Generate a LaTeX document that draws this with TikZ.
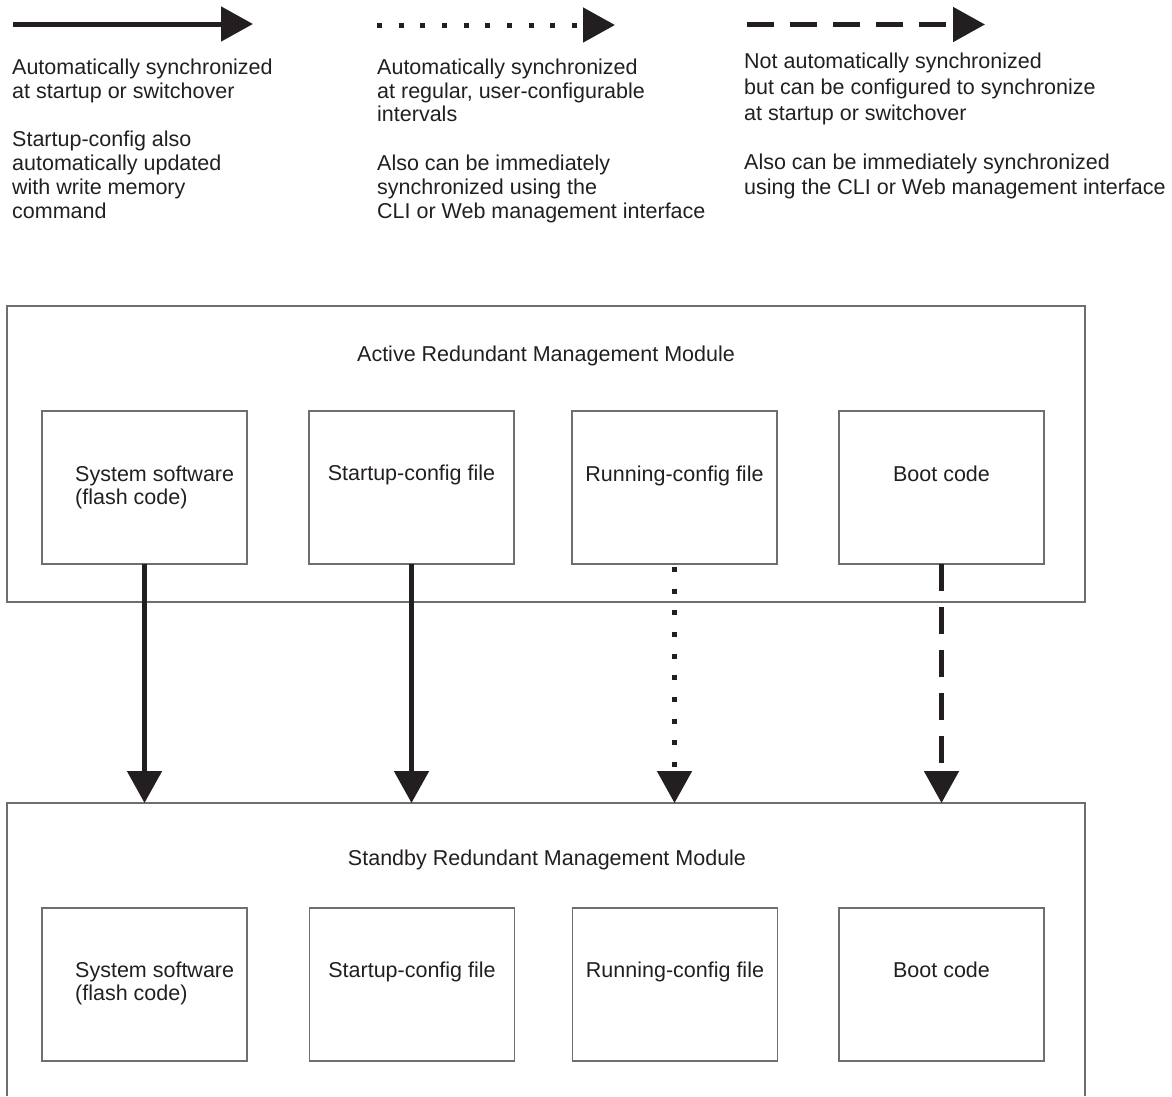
\documentclass[tikz,border=0pt]{standalone}
\usepackage{fontspec}
\setmainfont{Liberation Sans}
\usetikzlibrary{arrows.meta}
\definecolor{ink}{HTML}{231F20}
\definecolor{edge}{HTML}{6D6E71}
\begin{document}
\begin{tikzpicture}[x=1pt,y=-1pt,
  txt/.style={font=\fontsize{21.5}{24}\selectfont, text=ink, inner sep=0pt},
  box/.style={draw=edge, line width=1.2pt, inner sep=0pt, outer sep=0pt, minimum width=205pt, minimum height=153pt},
  outerbox/.style={draw=edge, line width=1.2pt, inner sep=0pt, outer sep=0pt, minimum width=1078pt, minimum height=296pt},
  syncarr/.style={draw=ink, line width=5pt, -{Triangle[length=32pt,width=34pt]}},
  dotarr/.style={syncarr, dash pattern=on 5pt off 16.67pt},
  dasharr/.style={syncarr, dash pattern=on 27pt off 16pt},
]
\useasboundingbox (0,0) rectangle (1172,1096);

% ---------- legend ----------
\coordinate (l1s) at (13,24);
\coordinate (l1e) at (253,24);
\draw[syncarr] (l1s) -- (l1e);
\coordinate (l2s) at (377,25);
\coordinate (l2e) at (615,25);
\draw[dotarr] (l2s) -- (l2e);
\coordinate (l3s) at (747,24.5);
\coordinate (l3e) at (985,24.5);
\draw[dasharr] (l3s) -- (l3e);

\node[txt, anchor=base west] (c1a) at (12,74.5) {Automatically synchronized};
\node[txt, anchor=base west] (c1b) at (12,98) {at startup or switchover};
\node[txt, anchor=base west] (c1c) at (12,146) {Startup-config also};
\node[txt, anchor=base west] (c1d) at (12,170) {automatically updated};
\node[txt, anchor=base west] (c1e) at (12,194.5) {with write memory};
\node[txt, anchor=base west] (c1f) at (12,218.5) {command};

\node[txt, anchor=base west] (c2a) at (377,74.5) {Automatically synchronized};
\node[txt, anchor=base west] (c2b) at (377,98) {at regular, user-configurable};
\node[txt, anchor=base west] (c2c) at (377,121.5) {intervals};
\node[txt, anchor=base west] (c2d) at (377,170) {Also can be immediately};
\node[txt, anchor=base west] (c2e) at (377,194.5) {synchronized using the};
\node[txt, anchor=base west] (c2f) at (377,218.5) {CLI or Web management interface};

\node[txt, anchor=base west] (c3a) at (744,68) {Not automatically synchronized};
\node[txt, anchor=base west] (c3b) at (744,94) {but can be configured to synchronize};
\node[txt, anchor=base west] (c3c) at (744,120) {at startup or switchover};
\node[txt, anchor=base west] (c3d) at (744,169.5) {Also can be immediately synchronized};
\node[txt, anchor=base west] (c3e) at (744,194.5) {using the CLI or Web management interface};

% ---------- active module ----------
\node[outerbox] (A) at (546,454) {};
\node[txt, anchor=base] (At) at (546,361) {Active Redundant Management Module};
\node[box] (a1) at (144.5,487.5) {};
\node[box] (a2) at (411.5,487.5) {};
\node[box] (a3) at (674.5,487.5) {};
\node[box] (a4) at (941.5,487.5) {};
\node[txt, anchor=base west] (a1t) at (75,481) {System software};
\node[txt, anchor=base west] (a1u) at (75,504) {(flash code)};
\node[txt, anchor=base] (a2t) at (411.5,480) {Startup-config file};
\node[txt, anchor=base] (a3t) at (674.5,481.5) {Running-config file};
\node[txt, anchor=base] (a4t) at (941.5,481) {Boot code};

% ---------- standby module ----------
\node[inner sep=0pt, outer sep=0pt, minimum width=1078pt, minimum height=293pt, anchor=north] (S) at (546,803) {};
\draw[draw=edge, line width=1.2pt] (S.south west) -- (S.north west) -- (S.north east) -- (S.south east);
\node[txt, anchor=base] (St) at (547,865) {Standby Redundant Management Module};
\node[box] (s1) at (144.5,984.5) {};
\node[box] (s2) at (412,984.5) {};
\node[box] (s3) at (675,984.5) {};
\node[box] (s4) at (941.5,984.5) {};
\node[txt, anchor=base west] (s1t) at (75,977) {System software};
\node[txt, anchor=base west] (s1u) at (75,1000) {(flash code)};
\node[txt, anchor=base] (s2t) at (412,977) {Startup-config file};
\node[txt, anchor=base] (s3t) at (675,977) {Running-config file};
\node[txt, anchor=base] (s4t) at (941.5,977) {Boot code};

% ---------- synchronisation arrows ----------
\draw[syncarr] (a1.south) -- (a1.south |- S.north);
\draw[syncarr] (a2.south) -- (a2.south |- S.north);
\draw[dotarr, dash phase=18.67pt] (a3.south) -- (a3.south |- S.north);
\draw[dasharr] (a4.south) -- (a4.south |- S.north);
\end{tikzpicture}
\end{document}
